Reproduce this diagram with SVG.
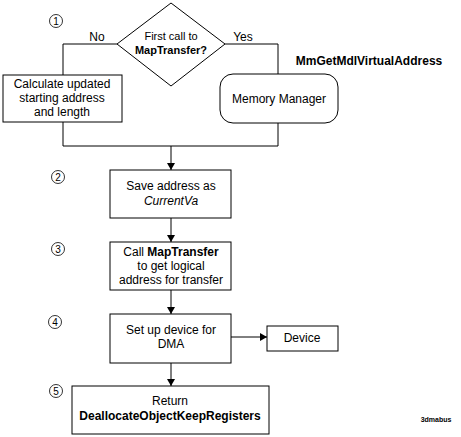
<svg xmlns="http://www.w3.org/2000/svg" width="461" height="437" viewBox="0 0 461 437">
<defs>
<style>
text{font-family:"Liberation Sans",Arial,sans-serif;font-size:12px;fill:#000}
.b{font-weight:bold}
.i{font-style:italic}
.d{font-size:11px}
.box{fill:#fff;stroke:#000;stroke-width:1}
.ln{fill:none;stroke:#000;stroke-width:1}
.num{fill:none;stroke:#000;stroke-width:0.8}
.nt{font-size:10px}
</style>
<marker id="ah" markerWidth="8" markerHeight="8" refX="7" refY="4" orient="auto" markerUnits="userSpaceOnUse">
<path d="M0,0 L7,4 L0,8 z" fill="#000"/>
</marker>
</defs>
<rect width="461" height="437" fill="#fff"/>
<g id="connectors">
<polyline class="ln" points="117,44 63,44 63,75"/>
<polyline class="ln" points="225,44 278,44 278,74"/>
<polyline class="ln" points="63,122 63,146 278,146 278,123"/>
<line class="ln" x1="171" y1="146" x2="171" y2="170" marker-end="url(#ah)"/>
<line class="ln" x1="171" y1="218" x2="171" y2="242" marker-end="url(#ah)"/>
<line class="ln" x1="171" y1="290" x2="171" y2="314" marker-end="url(#ah)"/>
<line class="ln" x1="231" y1="337" x2="267" y2="337" marker-end="url(#ah)"/>
<line class="ln" x1="171" y1="363" x2="171" y2="386" marker-end="url(#ah)"/>
<text x="97" y="41" text-anchor="middle">No</text>
<text x="243" y="41" text-anchor="middle">Yes</text>
</g>
<g id="decision">
<polygon class="box" points="171,3 225,44 171,86 117,44"/>
<text x="171" y="40" text-anchor="middle" class="d">First call to</text>
<text x="171" y="54" text-anchor="middle" class="b d">MapTransfer?</text>
</g>
<g id="calc">
<rect class="box" x="3" y="75" width="119" height="47"/>
<text x="62" y="88" text-anchor="middle">Calculate updated</text>
<text x="62" y="102" text-anchor="middle">starting address</text>
<text x="62" y="116" text-anchor="middle">and length</text>
</g>
<g id="memmgr">
<rect class="box" x="220" y="74" width="118" height="49" rx="13" ry="13"/>
<text x="279" y="103" text-anchor="middle">Memory Manager</text>
<text x="369" y="65" text-anchor="middle" class="b">MmGetMdlVirtualAddress</text>
</g>
<g id="save">
<rect class="box" x="110" y="170" width="121" height="48"/>
<text x="171" y="190" text-anchor="middle">Save address as</text>
<text x="171" y="205" text-anchor="middle" class="i">CurrentVa</text>
</g>
<g id="call">
<rect class="box" x="110" y="242" width="121" height="48"/>
<text x="171" y="256" text-anchor="middle">Call <tspan class="b">MapTransfer</tspan></text>
<text x="171" y="270" text-anchor="middle">to get logical</text>
<text x="171" y="284" text-anchor="middle">address for transfer</text>
</g>
<g id="setup">
<rect class="box" x="110" y="314" width="121" height="49"/>
<text x="171" y="334" text-anchor="middle">Set up device for</text>
<text x="171" y="348" text-anchor="middle">DMA</text>
</g>
<g id="device">
<rect class="box" x="267" y="326" width="71" height="25"/>
<text x="302" y="342" text-anchor="middle">Device</text>
</g>
<g id="return">
<rect class="box" x="72" y="386" width="197" height="48"/>
<text x="170" y="405" text-anchor="middle">Return</text>
<text x="170" y="420" text-anchor="middle" class="b">DeallocateObjectKeepRegisters</text>
</g>
<g id="steps">
<circle class="num" cx="56" cy="21" r="6.5"/><text class="nt" x="56" y="25" text-anchor="middle">1</text>
<circle class="num" cx="58" cy="177" r="6.5"/><text class="nt" x="58" y="181" text-anchor="middle">2</text>
<circle class="num" cx="58" cy="249" r="6.5"/><text class="nt" x="58" y="253" text-anchor="middle">3</text>
<circle class="num" cx="55" cy="322" r="6.5"/><text class="nt" x="55" y="326" text-anchor="middle">4</text>
<circle class="num" cx="56" cy="391" r="6.5"/><text class="nt" x="56" y="395" text-anchor="middle">5</text>
</g>
<text x="436" y="422" text-anchor="middle" style="font-size:7px" class="b">3dmabus</text>
</svg>
